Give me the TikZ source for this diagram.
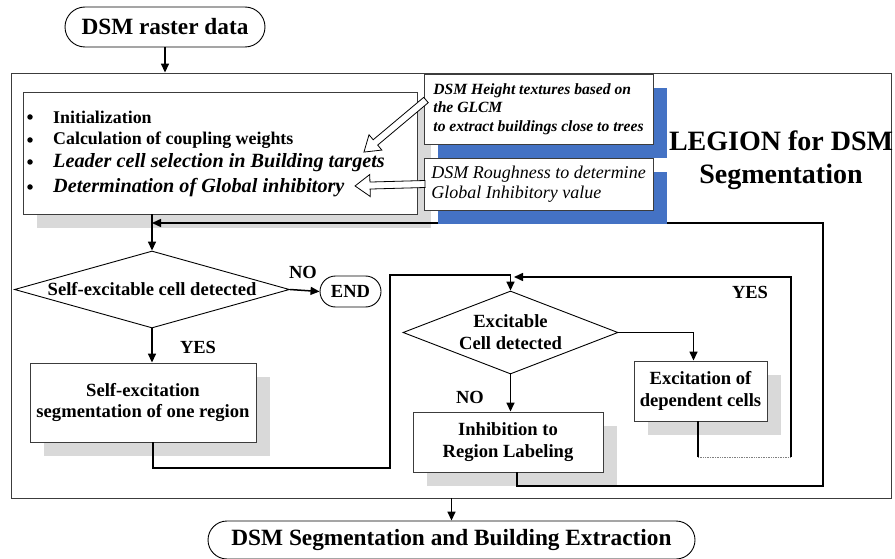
\documentclass[tikz,border=0pt]{standalone}
\usepackage{fontspec}
\setmainfont{Liberation Serif}
\usetikzlibrary{shapes.geometric,shadows,arrows.meta,calc}
\definecolor{shgray}{RGB}{217,217,217}
\definecolor{shblue}{RGB}{68,114,196}
\definecolor{edgec}{RGB}{60,60,60}
\newcommand{\fsz}[2]{\fontsize{#1}{#2}\selectfont}
\begin{document}
\begin{tikzpicture}[x=1pt,y=-1pt,
  every node/.style={inner sep=0pt},
  bx/.style={draw=edgec, line width=0.9pt, fill=white, align=center, font=\fsz{18.6}{21.5}\bfseries},
  gsh/.style={general shadow={fill=shgray, shadow xshift=14pt, shadow yshift=-14pt}},
  bsh/.style={general shadow={fill=shblue, shadow xshift=14pt, shadow yshift=-14pt}},
  term/.style={draw=black, line width=0.9pt, fill=white, rounded corners=#1, font=\fsz{23.3}{26}\bfseries},
  dia/.style={diamond, draw=black, line width=0.9pt, fill=white, align=center, font=\fsz{18.6}{22}\bfseries},
  conn/.style={line width=1.5pt},
  arr/.style={conn, -{Triangle[length=9pt,width=8pt]}},
  lab/.style={font=\fsz{18.5}{22}\bfseries},
  hollow/.style={draw=black, line width=0.8pt, fill=white, line join=miter}
]
\useasboundingbox (0,0) rectangle (895,559);

% outer frame
\node[draw=edgec, line width=0.9pt, minimum width=880, minimum height=425] (outer) at (451,285.5) {};

% start terminal
\node[term=20, minimum width=200, minimum height=40] (start) at (165,27) {DSM raster data};
\draw[arr] (start.south) -- (start.south |- outer.north);

% init box
\node[bx, gsh, minimum width=394, minimum height=122] (init) at (220,153) {};
\foreach \y [count=\i] in {117,140,162,187}
  \node[circle, fill=black, minimum size=5.5pt] (b\i) at (30,\y) {};
\node[anchor=base west, font=\fsz{17.9}{20}\bfseries] (t1) at (53,124) {Initialization};
\node[anchor=base west, font=\fsz{17.9}{20}\bfseries] (t2) at (53,145) {Calculation of coupling weights};
\node[anchor=base west, font=\fsz{20.2}{22}\bfseries\itshape] (t3) at (53,168) {Leader cell selection in Building targets};
\node[anchor=base west, font=\fsz{20.2}{22}\bfseries\itshape] (t4) at (53,193) {Determination of Global inhibitory};

% flow elements
\node[dia, shape aspect=3.57, minimum width=275, minimum height=77] (d1) at (152,289.5) {Self-excitable cell detected};
\node[term=15.5, minimum width=61, minimum height=31, font=\fsz{18.5}{22}\bfseries] (end) at (350.5,291.5) {END};
\node[bx, gsh, minimum width=226, minimum height=79] (self) at (143,402.5) {Self-excitation\\segmentation of one region};
\node[dia, shape aspect=2.59, minimum width=215, minimum height=83] (d2) at (510.5,332.5) {Excitable\\Cell detected};
\node[bx, gsh, minimum width=133, minimum height=60] (exc) at (700.5,391) {Excitation of\\dependent cells};
\node[bx, gsh, minimum width=190, minimum height=60] (inhib) at (508,442) {Inhibition to\\Region Labeling};

% connectors
\draw[arr] (init.south -| d1.north) -- (d1.north);
\draw[arr] (d1.east) -- (end.west);
\draw[arr] (d1.south) -- (d1.south |- self.north);
\coordinate (ja) at (390,468);
\coordinate (jb) at (390,275);
\draw[arr] ($(self.south)+(10,0)$) |- (ja) -- (jb) -| (d2.north);
\draw[arr] (d2.south) -- (d2.south |- inhib.north);
\draw[arr] (d2.east) -| ($(exc.north)+(-7,0)$);
\coordinate (lb) at (698,457);
\coordinate (lc) at (791,457);
\coordinate (lt) at (791,277);
\coordinate (lend) at (514,277);
\draw[conn] (exc.south -| lb) -- (lb);
\draw[densely dotted, line width=0.7pt, gray] (lb) -- (lc);
\draw[arr] (lc) -- (lt) -- (lend);
\coordinate (fa) at (517,486);
\coordinate (fb) at (823,486);
\coordinate (fc) at (823,223);
\draw[arr] (inhib.south -| fa) -- (fa) -- (fb) -- (fc) -- (fc -| d1.north);

% note boxes
\node[bx, bsh, minimum width=229, minimum height=70, align=left, font=\fsz{15.6}{18.5}\bfseries\itshape] (glcm) at (538.5,109) {DSM Height textures based on\\the GLCM\\to extract buildings close to trees};
\node[bx, bsh, minimum width=229, minimum height=52, align=left, font=\fsz{18}{20}\itshape] (rough) at (538.5,184) {DSM Roughness to determine\\Global Inhibitory value};

% hollow arrows
\coordinate (ha1) at (426,100);
\begin{scope}[shift={(ha1)}, rotate=220]
  \draw[hollow] (0,-3.5) -- (66,-3.5) -- (66,-10) -- (81,0) -- (66,10) -- (66,3.5) -- (0,3.5) -- cycle;
\end{scope}
\coordinate (ha2) at (425,184);
\begin{scope}[shift={(ha2)}, rotate=181.6]
  \draw[hollow] (0,-3.5) -- (55,-3.5) -- (55,-11) -- (70,0) -- (55,11) -- (55,3.5) -- (0,3.5) -- cycle;
\end{scope}

% title
\node[align=center, font=\fsz{28}{33}\bfseries] (title) at (781,160) {LEGION for DSM\\Segmentation};

% labels
\node[lab] (no1) at (303,272) {NO};
\node[lab] (yes1) at (198,347) {YES};
\node[lab] (yes2) at (750,292) {YES};
\node[lab] (no2) at (470,397) {NO};

% bottom terminal
\node[term=19, minimum width=487, minimum height=38] (bot) at (451.5,540) {DSM Segmentation and Building Extraction};
\draw[arr] (outer.south -| bot.north) -- (bot.north);
\end{tikzpicture}
\end{document}
